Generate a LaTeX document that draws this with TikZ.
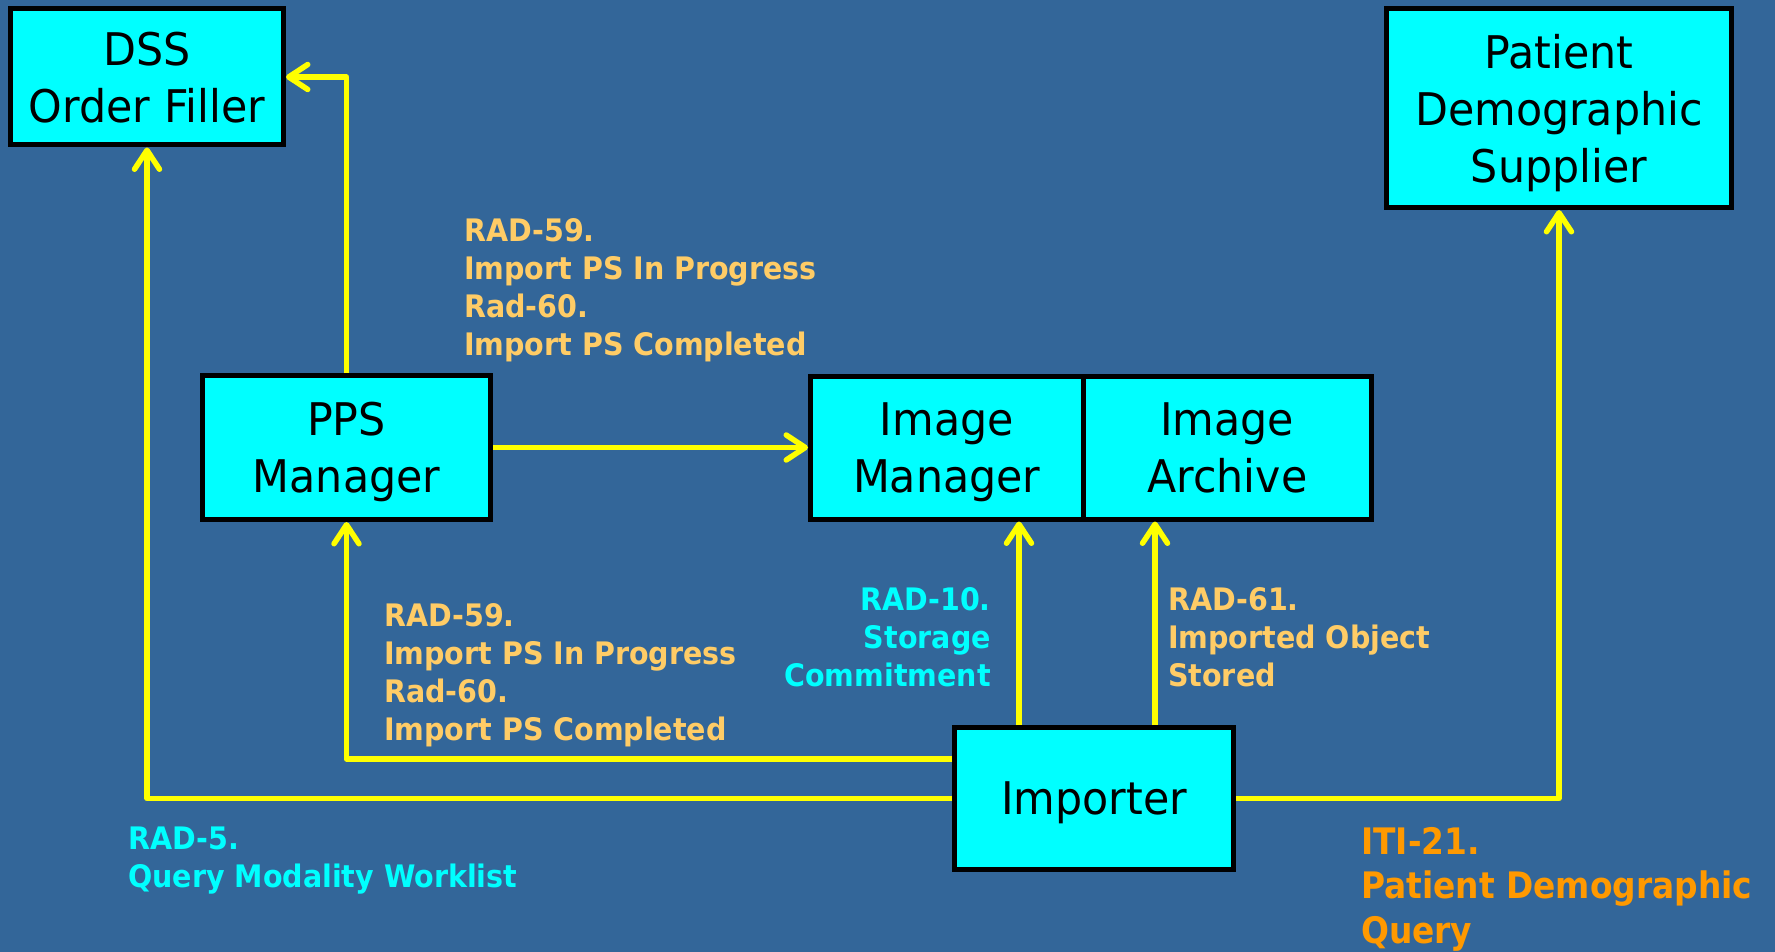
\documentclass[tikz,border=0pt]{standalone}
\usepackage{fontspec}
\usetikzlibrary{arrows.meta,calc}
\newfontfamily\boxfont[FakeStretch=0.95]{DejaVu Sans}
\newfontfamily\lblfont[FakeStretch=0.92]{DejaVu Sans Bold}
\newfontfamily\itifont[FakeStretch=0.9]{DejaVu Sans Bold}
\definecolor{bgblue}{RGB}{51,102,153}
\definecolor{boxcyan}{RGB}{0,255,255}
\definecolor{lblorange}{RGB}{255,204,102}
\definecolor{lblcyan}{RGB}{0,255,255}
\definecolor{itiorange}{RGB}{255,153,0}
\definecolor{connyellow}{RGB}{255,255,0}
\tikzset{
  actor/.style={draw=black, line width=5pt, fill=boxcyan, inner sep=0pt,
    align=center, font=\boxfont\fontsize{45}{57}\selectfont, text=black,
    text depth=0pt},
  conn/.style={draw=connyellow, line width=5.5pt, line join=round,
    -{Straight Barb[length=19pt,width=25pt,line cap=round,line join=round]}},
  lbl/.style={inner sep=0pt, align=left, anchor=north west,
    font=\lblfont\fontsize{31}{38}\selectfont},
}
\begin{document}
\begin{tikzpicture}[x=1pt,y=-1pt]
\fill[bgblue] (0,0) rectangle (1775,952);
\useasboundingbox (0,0) rectangle (1775,952);

% boxes
\node[actor, minimum width=273pt, minimum height=136pt] (dss) at (147,77) {DSS\\Order Filler};
\node[actor, minimum width=345pt, minimum height=199pt] (pds) at (1559,108) {Patient\\Demographic\\Supplier};
\node[actor, minimum width=288pt, minimum height=144pt] (pps) at (346.5,447.5) {PPS\\Manager};
\node[actor, minimum width=272.5pt, minimum height=143pt] (im) at (946.75,447.5) {Image\\Manager};
\node[actor, minimum width=288.5pt, minimum height=143pt] (ia) at (1227.25,447.5) {Image\\Archive};
\node[actor, minimum width=279pt, minimum height=142pt] (imp) at (1094,798.5) {Importer};

% connectors
\draw[conn] (pps.north) |- (dss.east);
\draw[conn] (pps.east) -- (pps.east -| im.west);
\draw[conn] (imp.west) -| (dss.south);
\draw[conn] ([yshift=39.5pt]imp.west) -| (pps.south);
\draw[conn] ([xshift=-75pt]imp.north) -- ([xshift=-75pt]imp.north |- im.south);
\draw[conn] ([xshift=61pt]imp.north) -- ([xshift=61pt]imp.north |- ia.south);
\draw[conn] (imp.east) -| (pds.south);

% labels
\node[lbl, text=lblorange] (l1) at (464,218) {RAD-59.\\Import PS In Progress\\Rad-60.\\Import PS Completed};
\node[lbl, text=lblorange] (l2) at (384,603) {RAD-59.\\Import PS In Progress\\Rad-60.\\Import PS Completed};
\node[lbl, text=lblcyan, anchor=north east, align=right] (l3) at (991,587) {RAD-10.\\Storage\\Commitment};
\node[lbl, text=lblorange] (l4) at (1168,587) {RAD-61.\\Imported Object\\Stored};
\node[lbl, text=lblcyan] (l5) at (128,827) {RAD-5.\\Query Modality Worklist};
\node[lbl, text=itiorange, font=\itifont\fontsize{36.5}{44.5}\selectfont] (l6) at (1361,827) {ITI-21.\\Patient Demographic\\Query};
\end{tikzpicture}
\end{document}
